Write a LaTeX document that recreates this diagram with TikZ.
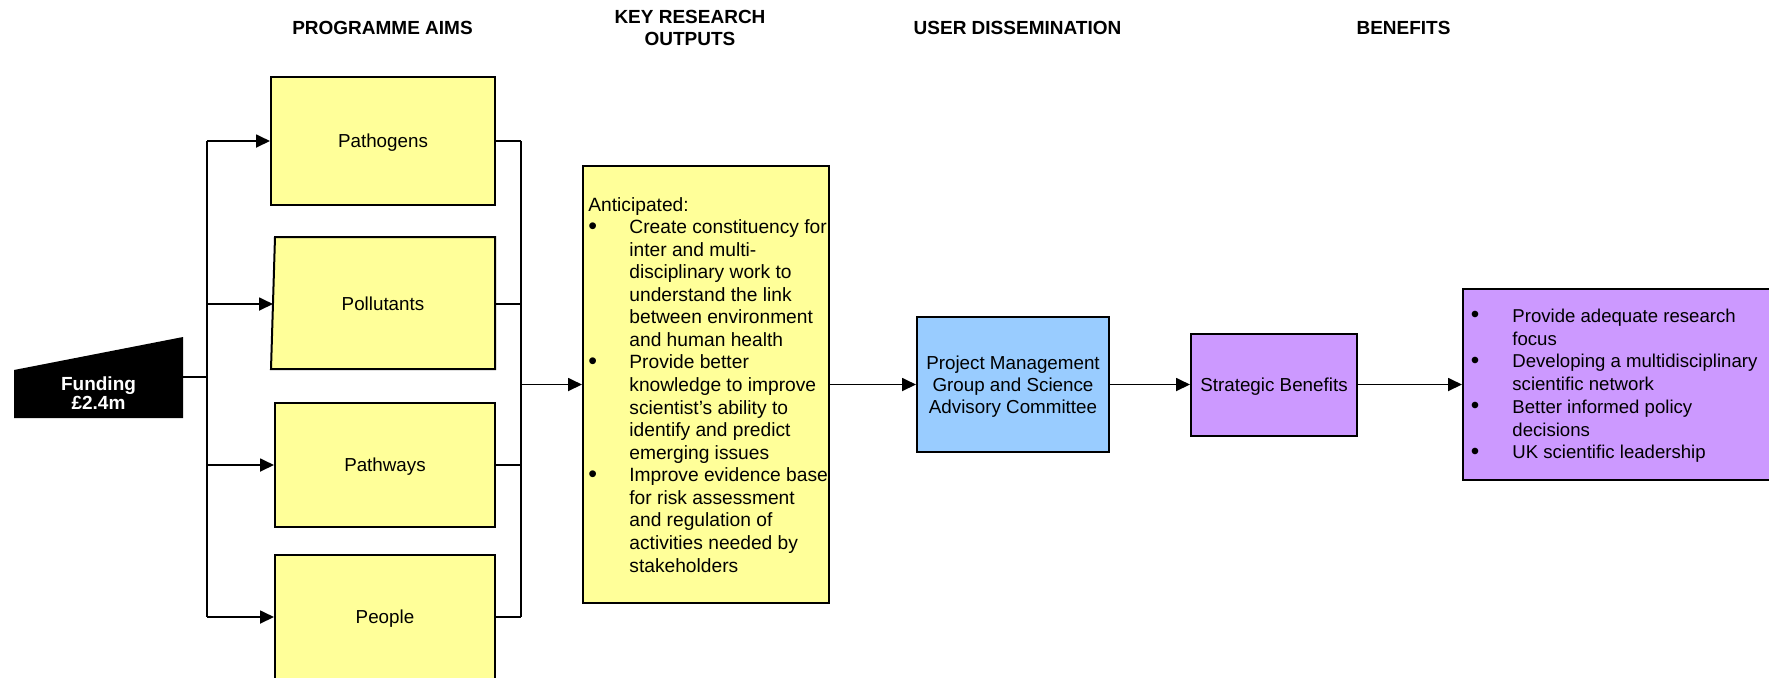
\documentclass[tikz,border=0pt]{standalone}
\usepackage{fontspec}
\setmainfont{Liberation Sans}
\usetikzlibrary{arrows.meta}
\definecolor{boxyellow}{HTML}{FFFF99}
\definecolor{boxblue}{HTML}{99CCFF}
\definecolor{boxpurple}{HTML}{CC99FF}
\newcommand{\bigbul}{\raisebox{-0.05ex}{\scalebox{1.3}{\textbullet}}}
\tikzset{
  box/.style={draw=black, line width=1pt, inner sep=0pt, align=center, text depth=0pt, font=\fontsize{9.4}{11}\selectfont},
  aim/.style={box, fill=boxyellow},
  conn/.style={draw=black, line width=0.9pt},
  arr/.style={conn, -{Triangle[length=7pt,width=6.5pt]}},
  header/.style={font=\bfseries\fontsize{9.5}{11}\selectfont, align=center, inner sep=0pt},
  plain/.style={inner sep=0pt, align=center, font=\fontsize{9.4}{11}\selectfont},
}
\begin{document}
\begin{tikzpicture}[x=0.5pt,y=-0.5pt]
\path[use as bounding box] (0,0) rectangle (1769,677);
\clip (0,0) rectangle (1769,677);

% headers
\node[header] (hprog) at (382.5,27.5) {PROGRAMME AIMS};
\node[header] (hkey) at (690,28) {KEY RESEARCH\\OUTPUTS};
\node[header] (huser) at (1017.5,28) {USER DISSEMINATION};
\node[header] (hben) at (1403.5,28) {BENEFITS};

% funding
\fill[black] (14,370) -- (183,337) -- (183,418) -- (14,418) -- cycle;
\node[font=\bfseries\fontsize{9.5}{9.5}\selectfont, text=white, align=center, inner sep=0pt] (fund) at (98.5,393.5) {Funding\\£2.4m};
\coordinate (fundR) at (183,377);

% programme aims
\node[aim, minimum width=112pt, minimum height=64pt] (path) at (383,141) {Pathogens};
\filldraw[fill=boxyellow, draw=black, line width=1pt] (275,237) -- (495,237) -- (495,369) -- (271,369) -- cycle;
\node[plain] (pol) at (383,304) {Pollutants};
\coordinate (polW) at (273,304);
\coordinate (polE) at (495,304);
\node[aim, minimum width=110pt, minimum height=62pt] (pway) at (385,465) {Pathways};
\node[aim, minimum width=110pt, minimum height=62pt] (peop) at (385,617) {People};

% left bus
\coordinate (jF) at (207,377);
\coordinate (jA) at (207,141);
\coordinate (jB) at (207,304);
\coordinate (jC) at (207,465);
\coordinate (jD) at (207,617);
\draw[conn] (fundR) -- (jF);
\draw[conn] (jA) -- (jD);
\draw[arr] (jA) -- (path.west);
\draw[arr] (jB) -- (polW);
\draw[arr] (jC) -- (pway.west);
\draw[arr] (jD) -- (peop.west);

% right bus
\coordinate (kA) at (521,141);
\coordinate (kB) at (521,304);
\coordinate (kC) at (521,465);
\coordinate (kD) at (521,617);
\coordinate (kM) at (521,384.5);
\draw[conn] (path.east) -- (kA);
\draw[conn] (polE) -- (kB);
\draw[conn] (pway.east) -- (kC);
\draw[conn] (peop.east) -- (kD);
\draw[conn] (kA) -- (kD);

% key research outputs
\node[aim, minimum width=123pt, minimum height=218.5pt] (key) at (706,384.5) {};
\node[anchor=west, inner sep=0pt, font=\fontsize{9.6}{11.28}\selectfont] (keytxt) at (588,387) {%
\begin{tabular}{@{}p{20.5pt}@{}l@{}}
\multicolumn{2}{@{}l@{}}{Anticipated:}\\
\bigbul & Create constituency for\\
 & inter and multi-\\
 & disciplinary work to\\
 & understand the link\\
 & between environment\\
 & and human health\\
\bigbul & Provide better\\
 & knowledge to improve\\
 & scientist’s ability to\\
 & identify and predict\\
 & emerging issues\\
\bigbul & Improve evidence base\\
 & for risk assessment\\
 & and regulation of\\
 & activities needed by\\
 & stakeholders
\end{tabular}};
\draw[arr] (kM) -- (key.west);

% user dissemination
\node[box, fill=boxblue, minimum width=96pt, minimum height=67.5pt] (pmg) at (1013,384.5) {Project Management\\Group and Science\\Advisory Committee};
\draw[arr] (key.east) -- (pmg.west);

% strategic benefits
\node[box, fill=boxpurple, minimum width=83pt, minimum height=51pt] (strat) at (1274,384.5) {Strategic Benefits};
\draw[arr] (pmg.east) -- (strat.west);

% benefits
\node[box, fill=boxpurple, minimum width=153.5pt, minimum height=95.5pt] (ben) at (1616.5,384.5) {};
\node[anchor=west, inner sep=0pt, font=\fontsize{9.3}{11.375}\selectfont] (bentxt) at (1470.5,386) {%
\begin{tabular}{@{}p{20.75pt}@{}l@{}}
\bigbul & Provide adequate research\\
 & focus\\
\bigbul & Developing a multidisciplinary\\
 & scientific network\\
\bigbul & Better informed policy\\
 & decisions\\
\bigbul & UK scientific leadership
\end{tabular}};
\draw[arr] (strat.east) -- (ben.west);
\end{tikzpicture}
\end{document}
